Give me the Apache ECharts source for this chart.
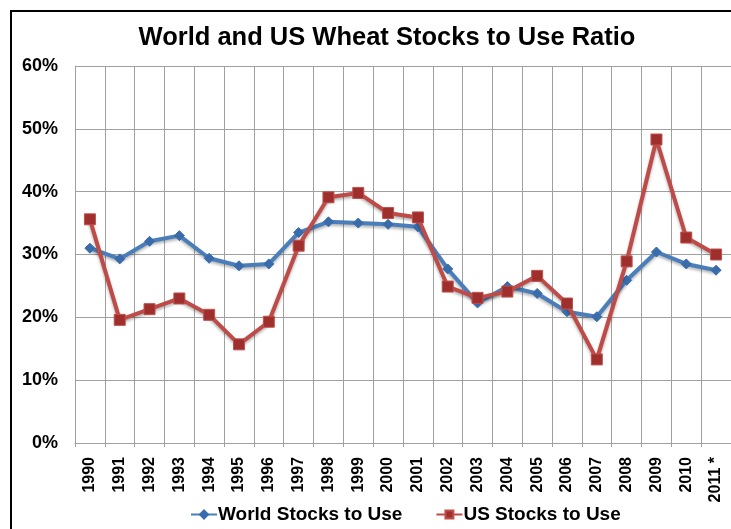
<!DOCTYPE html>
<html>
<head>
<meta charset="utf-8">
<script src="https://cdn.jsdelivr.net/npm/echarts@6/dist/echarts.min.js"></script>
<style>html,body{margin:0;padding:0;background:#fff;overflow:hidden}#c{width:731px;height:529px}</style>
</head>
<body>
<div id="c"></div>
<script>
var years = ['1990','1991','1992','1993','1994','1995','1996','1997','1998','1999','2000','2001','2002','2003','2004','2005','2006','2007','2008','2009','2010','2011 *'];
var worldStocks = [31.0,29.3,32.1,33.0,29.4,28.2,28.5,33.5,35.2,35.0,34.8,34.4,27.7,22.3,24.9,23.8,20.9,20.1,25.9,30.4,28.5,27.5];
var usStocks = [35.6,19.6,21.3,23.0,20.4,15.7,19.3,31.4,39.1,39.8,36.6,35.9,24.9,23.1,24.1,26.6,22.2,13.3,28.9,48.3,32.7,30.0];
var yTicks = [0,10,20,30,40,50,60];

var chart = echarts.init(document.getElementById('c'), null, {renderer:'canvas'});
var font = '"Liberation Sans", Arial, sans-serif';
chart.setOption({
  animation: false,
  backgroundColor: '#fff',
  title: {
    text: 'World and US Wheat Stocks to Use Ratio',
    left: 382, top: 20, textAlign: 'center',
    textStyle: {fontFamily: font, fontWeight: 'bold', fontSize: 25.5, color: '#000'}
  },
  graphic: [{
    type: 'line', shape: {x1: 11, y1: 10, x2: 11, y2: 540},
    style: {stroke: '#000', lineWidth: 2}, silent: true, z: 100
  },{
    type: 'line', shape: {x1: 10, y1: 11, x2: 760, y2: 11},
    style: {stroke: '#000', lineWidth: 2}, silent: true, z: 100
  }],
  legend: {
    bottom: 0, left: 185, itemGap: 33, itemWidth: 26, itemHeight: 10,
    textStyle: {fontFamily: font, fontWeight: 'bold', fontSize: 19, color: '#000', padding: [0,0,0,-4]},
    data: ['World Stocks to Use','US Stocks to Use']
  },
  grid: {left: 75, width: 660, top: 66, bottom: 86, containLabel: false},
  xAxis: {
    type: 'category', data: years, boundaryGap: true,
    axisLine: {lineStyle: {color: '#a0a0a0', width: 1}},
    axisTick: {show: true, length: 4, lineStyle: {color: '#a0a0a0'}},
    splitLine: {show: true, lineStyle: {color: '#a0a0a0', width: 1}},
    axisLabel: {rotate: 90, interval: 0, margin: 14, fontFamily: font, fontWeight: 'bold', fontSize: 16, color: '#000'}
  },
  yAxis: {
    type: 'value', min: 0, max: 60, interval: 10,
    axisLine: {show: true, lineStyle: {color: '#a0a0a0'}},
    axisTick: {show: false},
    splitLine: {show: true, lineStyle: {color: '#a0a0a0', width: 1}},
    axisLabel: {margin: 17, fontFamily: font, fontWeight: 'bold', fontSize: 18, color: '#000',
      formatter: function(v){ return yTicks.indexOf(v) >= 0 ? v + '%' : ''; }}
  },
  series: [{
    name: 'World Stocks to Use', type: 'line', data: worldStocks,
    symbol: 'diamond', symbolSize: 10,
    lineStyle: {color: '#4a7ebb', width: 4, shadowColor: 'rgba(0,0,0,0.3)', shadowBlur: 3, shadowOffsetY: 2},
    itemStyle: {color: '#3a6cab', borderColor: '#3a6cab', borderWidth: 1},
    z: 3
  },{
    name: 'US Stocks to Use', type: 'line', data: usStocks,
    symbol: 'rect', symbolSize: 11,
    lineStyle: {color: '#be4b48', width: 4, shadowColor: 'rgba(0,0,0,0.3)', shadowBlur: 3, shadowOffsetY: 2},
    itemStyle: {color: '#9e2f2c', borderColor: '#c0504d', borderWidth: 1},
    z: 4
  }]
});
</script>
</body>
</html>
